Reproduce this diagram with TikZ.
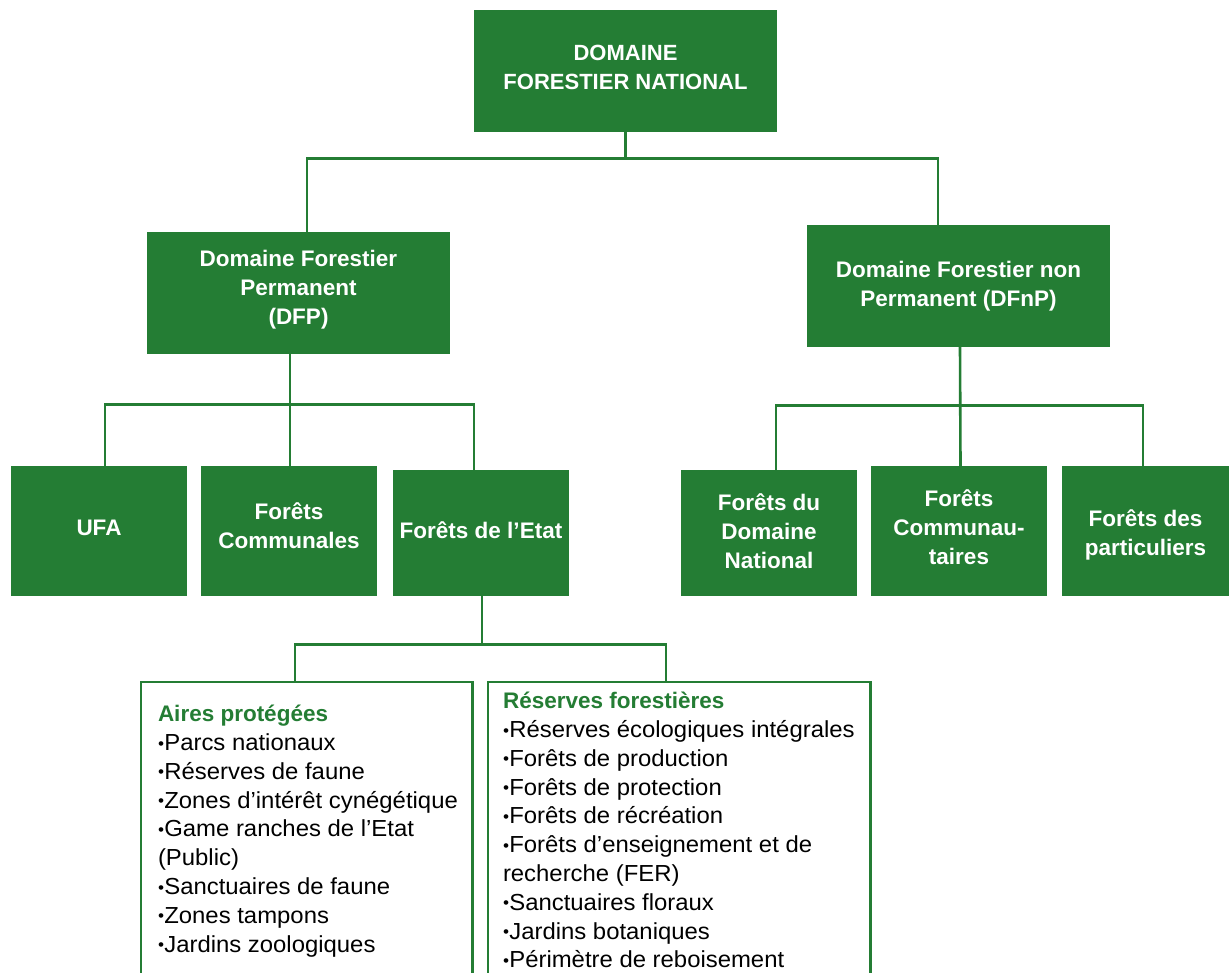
\documentclass[tikz,border=0pt]{standalone}
\usepackage{fontspec}
\setmainfont{Liberation Sans}
\newfontfamily\listfont{Liberation Sans}[FakeStretch=1.03]
\usetikzlibrary{calc}
\definecolor{fgreen}{RGB}{36,125,52}
\newcommand\blt{\raisebox{0.12ex}{\scalebox{0.72}{•}}\hspace{0.3pt}}
\begin{document}
\begin{tikzpicture}[x=1pt,y=-1pt,
  gbox/.style={fill=fgreen, draw=none, inner sep=0pt},
  gtext/.style={text=white, align=center, inner sep=0pt,
    font=\bfseries\fontsize{22.5}{29}\selectfont},
  conn/.style={draw=fgreen, line width=2.6pt},
  frame/.style={draw=fgreen, line width=2.6pt},
  listtext/.style={anchor=north west, align=left, inner sep=0pt, text=black,
    font=\listfont\fontsize{23.2}{28.8}\selectfont}]
\useasboundingbox (0,0) rectangle (1229,972);
\fill[white] (0,0) rectangle (1229,972);

% level 0
\node[gbox, minimum width=303pt, minimum height=122pt] (top) at (625.5,71) {};
\node[gtext, font=\bfseries\fontsize{22}{29}\selectfont] (topT) at ([yshift=4pt]top.center) {DOMAINE\\FORESTIER NATIONAL};
% level 1
\node[gbox, minimum width=303pt, minimum height=122pt] (dfp) at (298.5,293) {};
\node[gtext] (dfpT) at ([yshift=3.5pt]dfp.center) {Domaine Forestier\\Permanent\\(DFP)};
\node[gbox, minimum width=303pt, minimum height=122pt] (dfnp) at (958.5,286) {};
\node[gtext] (dfnpT) at ([yshift=-0.5pt]dfnp.center) {Domaine Forestier non\\Permanent (DFnP)};
% level 2 left
\node[gbox, minimum width=176pt, minimum height=130pt] (ufa) at (99,531) {};
\node[gtext] (ufaT) at ([yshift=3pt]ufa.center) {UFA};
\node[gbox, minimum width=176pt, minimum height=130pt] (comm) at (289,531) {};
\node[gtext] (commT) at ([yshift=5pt]comm.center) {Forêts\\Communales};
\node[gbox, minimum width=176pt, minimum height=126pt] (etat) at (481,533) {};
\node[gtext] (etatT) at ([yshift=2.5pt]etat.center) {Forêts de l’Etat};
% level 2 right
\node[gbox, minimum width=176pt, minimum height=126pt] (fdn) at (769,533) {};
\node[gtext] (fdnT) at ([yshift=1.5pt]fdn.center) {Forêts du\\Domaine\\National};
\node[gbox, minimum width=176pt, minimum height=130pt] (fcom) at (959,531) {};
\node[gtext] (fcomT) at ([yshift=4pt]fcom.center) {Forêts\\Communau-\\taires};
\node[gbox, minimum width=167pt, minimum height=130pt] (fpart) at (1145.5,531) {};
\node[gtext] (fpartT) at ([yshift=-4pt]fpart.center) {Forêts des\\particuliers};

% level 3 frames (open at the bottom)
\node[minimum width=331pt, minimum height=300pt, inner sep=0pt, anchor=north] (airesF) at (306.5,682) {};
\node[minimum width=382pt, minimum height=300pt, inner sep=0pt, anchor=north] (resF) at (679,682) {};
\draw[frame] (airesF.south west) -- (airesF.north west) -- (airesF.north east) -- (airesF.south east);
\draw[frame] (resF.south west) -- (resF.north west) -- (resF.north east) -- (resF.south east);

\node[listtext] (aires) at ($(airesF.north west)+(17,23)$) {%
  {\color{fgreen}\rmfamily\bfseries\fontsize{22.5}{28.8}\selectfont Aires protégées}\\
  \blt Parcs nationaux\\
  \blt Réserves de faune\\
  \blt Zones d’intérêt cynégétique\\
  \blt Game ranches de l’Etat\\
  (Public)\\
  \blt Sanctuaires de faune\\
  \blt Zones tampons\\
  \blt Jardins zoologiques};
\node[listtext] (reserv) at ($(resF.north west)+(15,10)$) {%
  {\color{fgreen}\rmfamily\bfseries\fontsize{22.5}{28.8}\selectfont Réserves forestières}\\
  \blt Réserves écologiques intégrales\\
  \blt Forêts de production\\
  \blt Forêts de protection\\
  \blt Forêts de récréation\\
  \blt Forêts d’enseignement et de\\
  recherche (FER)\\
  \blt Sanctuaires floraux\\
  \blt Jardins botaniques\\
  \blt Périmètre de reboisement};

% connectors
\coordinate (j0) at ($(top.south)+(0,26)$);
\draw[conn] (top.south) -- (j0);
\draw[conn] ([xshift=8.5pt]dfp.north) |- (j0) -| ([xshift=-20.5pt]dfnp.north);

\coordinate (j1) at ($([xshift=-8.5pt]dfp.south)+(0,50)$);
\draw[conn] ([xshift=-8.5pt]dfp.south) -- ([xshift=1pt]comm.north);
\draw[conn] ([xshift=6pt]ufa.north) |- (j1) -| ([xshift=-7pt]etat.north);

\coordinate (j2) at ($([xshift=1.5pt]dfnp.south)+(0,58)$);
\draw[conn] ([xshift=1.5pt]dfnp.south) -- ([xshift=1.5pt]fcom.north);
\draw[conn] ([xshift=7pt]fdn.north) |- (j2) -| ([xshift=-2.5pt]fpart.north);

\coordinate (j3) at ($(etat.south)+(1,48)$);
\draw[conn] ([xshift=1pt]etat.south) -- (j3);
\draw[conn] ([xshift=-11.5pt]airesF.north) |- (j3) -| ([xshift=-13pt]resF.north);
\end{tikzpicture}
\end{document}
